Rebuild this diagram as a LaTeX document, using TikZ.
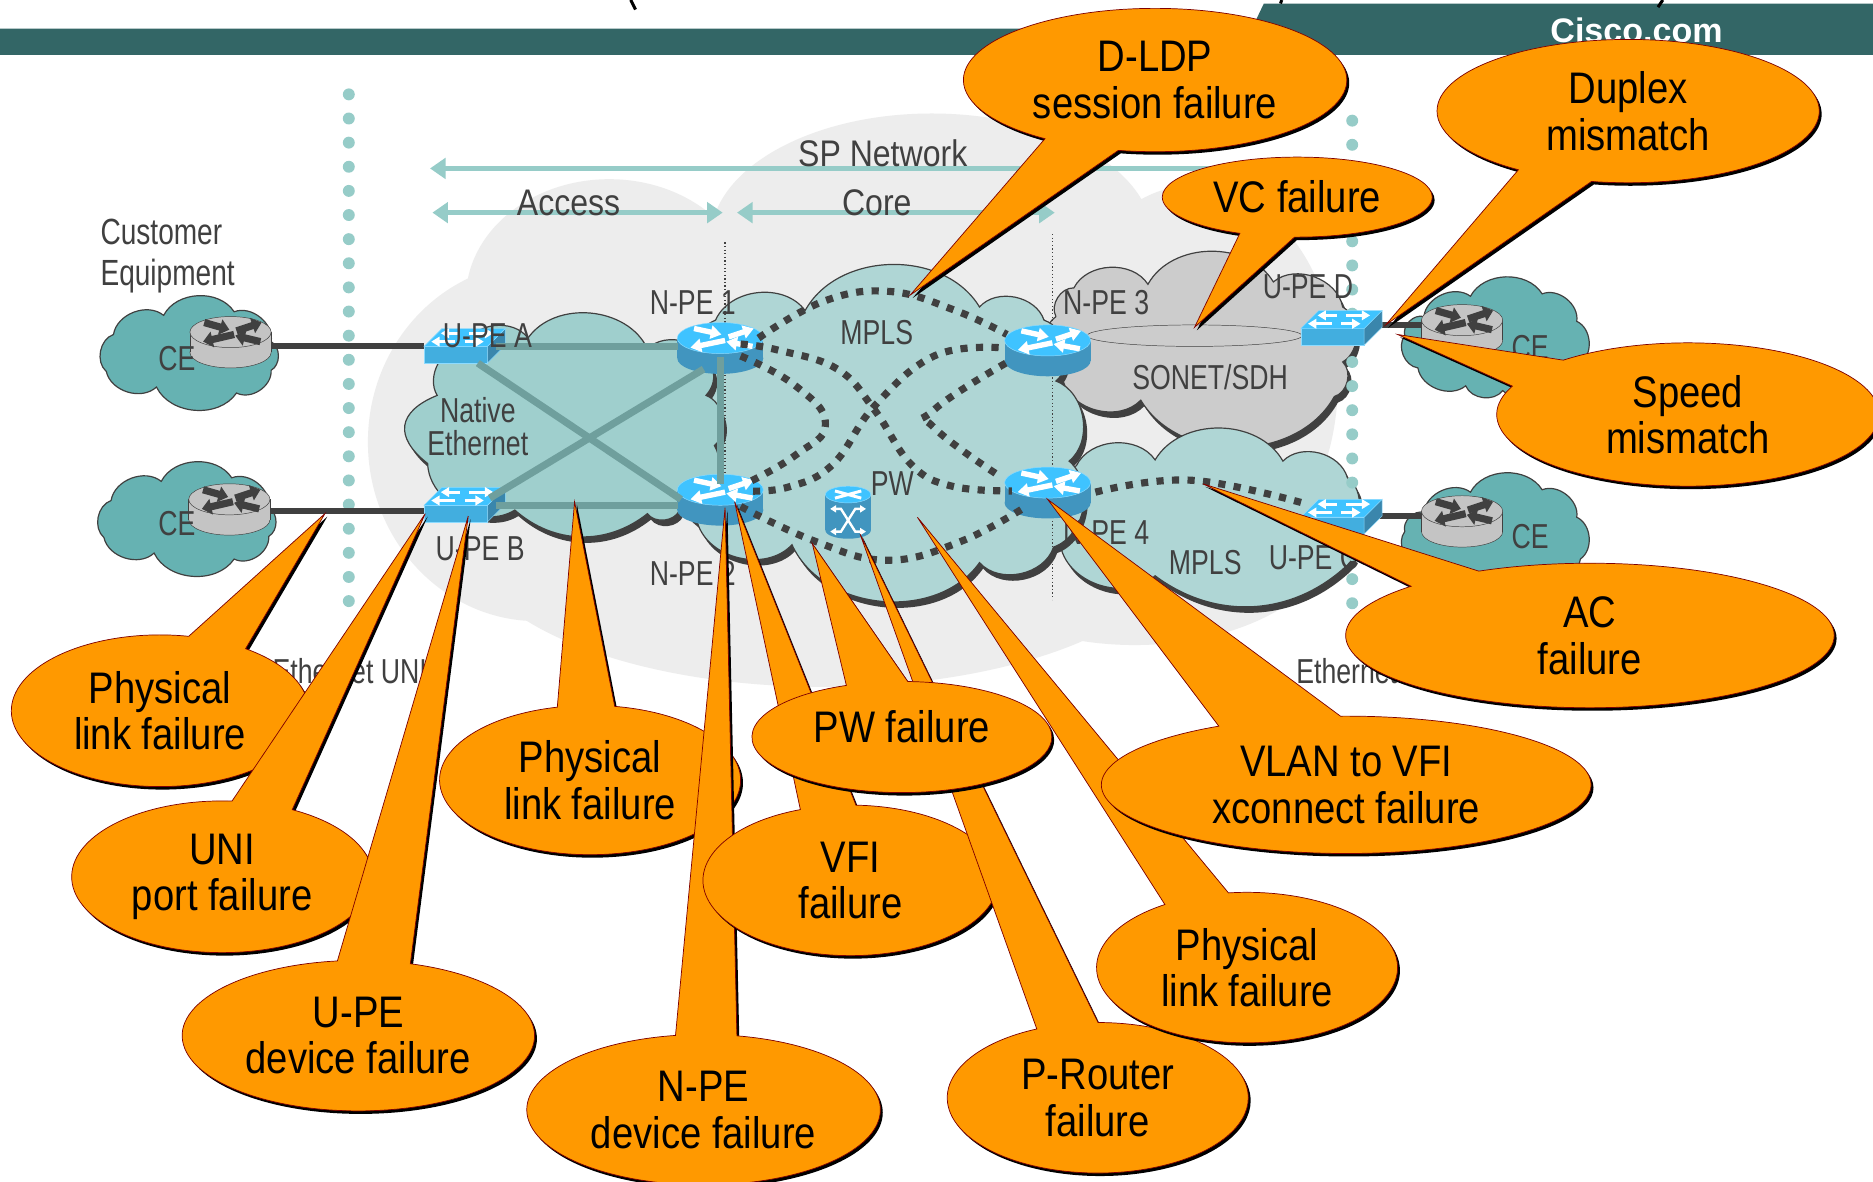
\documentclass[tikz,border=0pt]{standalone}
\usepackage{fontspec}
\setmainfont[FakeStretch=0.865]{Liberation Sans}
\newfontfamily\narrowfont[FakeStretch=0.77]{Liberation Sans}
\newfontfamily\plainfont{Liberation Sans}
\usetikzlibrary{shapes.callouts,shadows,arrows.meta}

\definecolor{barteal}{HTML}{336666}
\definecolor{mplsteal}{HTML}{AFD6D5}
\definecolor{nativeteal}{HTML}{9FCFCD}
\definecolor{ceteal}{HTML}{66B2B2}
\definecolor{linkteal}{HTML}{6F9F9D}
\definecolor{arrowteal}{HTML}{96CCC8}
\definecolor{labelgray}{HTML}{404040}
\definecolor{failorange}{HTML}{FF9900}
\definecolor{routerblue}{HTML}{4195BF}
\definecolor{routertop}{HTML}{3FC3FF}
\definecolor{switchblue}{HTML}{42AEDF}

\tikzset{
  router/.pic = {
    \fill[routerblue] (0,17) ellipse [x radius=36, y radius=13];
    \fill[routerblue] (-36,0) rectangle (36,17);
    \draw[routertop!60,fill=routertop] (0,0) ellipse [x radius=36, y radius=13];
    \foreach \xa/\ya/\xb/\yb in {-22/-8/1/-3, 7/-1/28/-8, 4/2/-25/8, 27/7/5/3}{
      \draw[white,line width=4.5,-{Triangle[length=9,width=11]}] (\xa,\ya) -- (\xb,\yb);}
  },
  grayrouter/.pic = {
    \draw[labelgray,fill=black!23] (0,17) ellipse [x radius=34, y radius=13];
    \fill[black!23] (-34,0) rectangle (34,17);
    \draw[labelgray] (-34,0) -- (-34,17) (34,0) -- (34,17);
    \draw[labelgray,fill=black!23] (0,0) ellipse [x radius=34, y radius=13];
    \foreach \xa/\ya/\xb/\yb in {-22/-8/-1/-2, 5/-1/26/-8, 3/2/-23/8, 25/8/4/3}{
      \draw[labelgray,line width=6,-{Triangle[length=8,width=13]}] (\xa,\ya) -- (\xb,\yb);}
  },
  switchbox/.pic = {
    \draw[routertop!60,fill=switchblue] (0,0) rectangle (53,14);
    \draw[routertop!60,fill=routerblue!90!black] (53,0) -- (68,-15) -- (68,-1) -- (53,14) -- cycle;
    \draw[routertop!60,fill=routertop] (0,0) -- (53,0) -- (68,-15) -- (15,-15) -- cycle;
    \foreach \xa/\ya/\xb/\yb in {30/-11/14/-11, 38/-11/58/-11, 26/-4/6/-4, 34/-4/50/-4}{
      \draw[white,line width=2.5,-{Triangle[length=7,width=8]}] (\xa,\ya) -- (\xb,\yb);}
  },
  xconnect/.pic = {
    \fill[routerblue] (0,30) ellipse [x radius=19, y radius=7];
    \fill[routerblue] (-19,0) rectangle (19,30);
    \draw[routertop!60,fill=routertop] (0,0) ellipse [x radius=19, y radius=7];
    \draw[white,line width=2.5] (-11,-3) -- (11,3) (11,-3) -- (-11,3);
    \draw[white,line width=2,{Triangle[length=5,width=6]}-{Triangle[length=5,width=6]}] (-15,12) -- (-6,12) -- (6,31) -- (15,31);
    \draw[white,line width=2,{Triangle[length=5,width=6]}-{Triangle[length=5,width=6]}] (15,12) -- (6,12) -- (-6,31) -- (-15,31);
  },
  netcloud/.style = {draw=labelgray, line width=1, every to/.style={bend left=60}},
  heavy/.style = {drop shadow={shadow xshift=3pt,shadow yshift=-5pt,fill=labelgray,opacity=1}},
  graylabel/.style = {text=labelgray, inner sep=0pt, font=\narrowfont\fontsize{29}{35}\selectfont, align=center},
  spanlabel/.style = {text=labelgray, inner sep=0pt, font=\fontsize{31}{35}\selectfont},
  pwline/.style = {draw=labelgray, line width=6, dash pattern=on 6pt off 7pt},
  linkline/.style = {linkteal, line width=6},
  celine/.style = {labelgray, line width=5},
  spanarrow/.style = {arrowteal, line width=4, {Triangle[length=13,width=17]}-{Triangle[length=13,width=17]}},
  faildot/.style = {arrowteal, line width=10, line cap=round, dash pattern=on 0pt off 20.2pt},
  failure/.style = {ellipse callout, fill=failorange, draw=red!50!black, line width=.6,
    inner sep=0pt, outer sep=0pt, align=center, font=\fontsize{37}{39}\selectfont,
    drop shadow={shadow xshift=2pt,shadow yshift=-2.5pt,fill=black,opacity=1}},
}

\begin{document}
\begin{tikzpicture}[x=1pt,y=-1pt]
  \useasboundingbox (0,0) rectangle (1568,989);
  \fill[white] (0,0) rectangle (1568,989);

  % header
  \fill[barteal] (0,24) -- (1048,24) -- (1058,3) -- (1568,3) -- (1568,46) -- (0,46) -- cycle;
  \node[text=white, inner sep=0pt, font=\plainfont\bfseries\fontsize{28.5}{29}\selectfont] (ciscocom) at (1370,25) {Cisco.com};
  \draw[black,line width=2.5] (528,0) -- (532,8) (1073,0) -- (1072,3) (1392,0) -- (1388,6);

  % service provider backdrop
  \fill[black!7] (450,370) ellipse [x radius=142, y radius=150]
    (510,250) ellipse [x radius=120, y radius=100]
    (780,200) ellipse [x radius=185, y radius=105]
    (1000,320) ellipse [x radius=120, y radius=165]
    (690,450) ellipse [x radius=300, y radius=125]
    (950,440) ellipse [x radius=170, y radius=100];

  % clouds
  \draw[netcloud,heavy,fill=black!20] (884,265) to (899,241) to (961,238) to (1066,236) to (1124,257)
    to (1124,303) to (1117,332) to (955,335) to (890,319) to (884,265);
  \draw[netcloud,heavy,fill=mplsteal] (901,390) to (967,385) to (1074,386) to (1128,400) to (1124,447)
    to (1128,473) to[bend left=40] (967,482) to (888,458) to (901,390);
  \draw[netcloud,heavy,fill=mplsteal] (599,268) to (674,260) to (820,257) to (874,268) to (884,319)
    to (895,386) to (882,458) to (820,471) to (663,456) to (584,438) to (590,335) to (599,268);
  \draw[netcloud,heavy,fill=nativeteal] (389,289) to (442,283) to (542,292) to (596,307) to[bend left=30] (591,331)
    to (598,373) to (569,427) to (542,430) to[bend left=40] (431,427) to (358,388) to[looseness=1.6] (366,331) to (389,289);
  \foreach \dx/\dy in {0/0,-2/139}{
    \draw[netcloud,fill=ceteal,shift={(\dx,\dy)}] (95,280) to (137,264) to (196,261) to (227,286) to (227,310)
      to (198,329) to (131,324) to (89,311) to (95,280);
  }
  \foreach \dy in {4,168}{
    \draw[netcloud,fill=ceteal,shift={(0,\dy)}] (1192,261) to (1231,244) to (1291,242) to (1320,265) to (1323,300)
      to (1258,323) to (1227,319) to (1187,304) to (1176,277) to (1192,261);
  }

  % demarcation
  \draw[faildot] (292,79) -- (292,505);
  \draw[faildot] (1132,101) -- (1132,505);
  \draw[labelgray,line width=1,dotted] (607,203) -- (607,410);
  \draw[labelgray,line width=1,dotted] (881,196) -- (881,502);
  \draw[spanarrow] (360,141) -- (1095,141);
  \draw[spanarrow] (362,178) -- (605,178);
  \draw[spanarrow] (617,178) -- (883,178);
  \draw[labelgray,fill=black!20] (1000,281) ellipse [x radius=90, y radius=9];

  % devices
  \foreach \name/\xpos/\ypos in {npeA/603/283, npeB/603/410, npeC/877/285, npeD/877/404,
    ceA/193/278, ceB/192/418, ceD/1224/268, ceC/1224/428,
    upeA/355/290, upeB/355/423, upeD/1089/275, upeC/1089/433}{
    \coordinate (\name) at (\xpos,\ypos);
  }
  \foreach \name in {npeA,npeB,npeC,npeD}{\pic at (\name) {router};}
  \draw[celine] ([shift={(30,12)}]ceA) -- (upeA);
  \draw[celine] ([shift={(30,10)}]ceB) -- ([shift={(0,5)}]upeB);
  \draw[celine] ([shift={(68,-3)}]upeD) -- ([shift={(-30,4)}]ceD);
  \draw[celine] ([shift={(60,-1)}]upeC) -- ([shift={(-30,4)}]ceC);
  \foreach \name in {ceA,ceB,ceD,ceC}{\pic at (\name) {grayrouter};}
  \foreach \name in {upeA,upeB,upeD,upeC}{\pic at (\name) {switchbox};}
  \coordinate (pwbox) at (710,414);
  \pic at (pwbox) {xconnect};

  % native ethernet links
  \draw[linkline] ([shift={(60,0)}]upeA) -- ([shift={(-35,7)}]npeA);
  \draw[linkline] ([shift={(60,0)}]upeB) -- ([shift={(-35,13)}]npeB);
  \draw[linkline] ([shift={(45,14)}]upeA) -- ([shift={(-33,8)}]npeB);
  \draw[linkline] ([shift={(55,-6)}]upeB) -- ([shift={(-14,26)}]npeA);
  \draw[linkline] ([shift={(0,16)}]npeA) -- ([shift={(0,-5)}]npeB);

  % pseudowires
  \draw[pwline] plot[smooth,tension=.7] coordinates {([shift={(32,0)}]npeA) (690,252) (745,244) (800,260) ([shift={(-34,-5)}]npeC)};
  \draw[pwline] plot[smooth,tension=.7] coordinates {([shift={(17,5)}]npeA) (651,293) (701,309) (732,343) (763,389) (797,407) ([shift={(-30,7)}]npeD)};
  \draw[pwline] plot[smooth,tension=.8] coordinates {([shift={(17,15)}]npeA) (666,323) (691,355) (666,381) ([shift={(23,-6)}]npeB)};
  \draw[pwline] plot[smooth,tension=.7] coordinates {([shift={(-41,6)}]npeC) (782,298) (732,340) (697,389) (659,408) ([shift={(21,1)}]npeB)};
  \draw[pwline] plot[smooth,tension=.9] coordinates {([shift={(-35,19)}]npeC) (782,343) (782,358) ([shift={(-41,-6)}]npeD)};
  \draw[pwline] plot[smooth,tension=.7] coordinates {([shift={(17,14)}]npeB) (682,453) (743,469) (805,453) ([shift={(-18,20)}]npeD)};
  \draw[pwline] plot[smooth,tension=.7] coordinates {([shift={(40,8)}]npeD) (997,402) ([shift={(5,-11)}]upeC)};

  % labels
  \node[graylabel,anchor=west,font=\narrowfont\fontsize{30.5}{35}\selectfont] (custtext) at (84,194) {Customer};
  \node[graylabel,anchor=west,font=\narrowfont\fontsize{30.5}{35}\selectfont] (equiptext) at (84,231) {Equipment};
  \node[graylabel] (ceAtext) at (148,300) {CE};
  \node[graylabel] (ceBtext) at (148,438) {CE};
  \node[graylabel] (ceDtext) at (1281,291) {CE};
  \node[graylabel] (ceCtext) at (1281,449) {CE};
  \node[graylabel] (upeAtext) at (408,281) {U-PE A};
  \node[graylabel] (upeBtext) at (402,459) {U-PE B};
  \node[graylabel] (upeDtext) at (1095,240) {U-PE D};
  \node[graylabel] (upeCtext) at (1100,467) {U-PE C};
  \node[graylabel] (npeAtext) at (580,253) {N-PE 1};
  \node[graylabel] (npeBtext) at (580,480) {N-PE 2};
  \node[graylabel] (npeCtext) at (926,253) {N-PE 3};
  \node[graylabel] (npeDtext) at (926,446) {N-PE 4};
  \node[graylabel] (nativetext) at (400,357) {Native\\[-7pt]Ethernet};
  \node[graylabel] (mplstext) at (734,278) {MPLS};
  \node[graylabel] (pwtext) at (747,405) {PW};
  \node[graylabel] (sonettext) at (1013,316) {SONET/SDH};
  \node[graylabel] (mplsrtext) at (1009,471) {MPLS};
  \node[spanlabel] (sptext) at (739,128) {SP Network};
  \node[spanlabel] (accesstext) at (476,170) {Access};
  \node[spanlabel] (coretext) at (734,170) {Core};
  \node[graylabel,anchor=west] (uniA) at (228,562) {Ethernet UNI};
  \node[graylabel,anchor=west] (uniB) at (1085,562) {Ethernet UNI};

  % failure points
  \node[failure,minimum width=249,minimum height=127,callout absolute pointer={(272,430)},callout pointer arc=24] (linkA) at (134,595) {Physical\\link failure};
  \node[failure,minimum width=252,minimum height=127,callout absolute pointer={(356,430)},callout pointer arc=24] (uniport) at (186,734) {UNI\\port failure};
  \node[failure,minimum width=295,minimum height=126,callout absolute pointer={(392,432)},callout pointer arc=24] (upefail) at (300,867) {U-PE\\device failure};
  \node[failure,minimum width=252,minimum height=125,callout absolute pointer={(481,420)},callout pointer arc=22] (linkB) at (494,653) {Physical\\link failure};
  \node[failure,minimum width=296,minimum height=126,callout absolute pointer={(607,425)},callout pointer arc=20] (npefail) at (589,929) {N-PE\\device failure};
  \node[failure,minimum width=247,minimum height=126,callout absolute pointer={(615,420)},callout pointer arc=22] (vfifail) at (712,737) {VFI\\failure};
  \node[failure,minimum width=252,minimum height=126,callout absolute pointer={(720,447)},callout pointer arc=24] (prouter) at (919,919) {P-Router\\failure};
  \node[failure,minimum width=252,minimum height=126,callout absolute pointer={(768,433)},callout pointer arc=26] (linkC) at (1044,810) {Physical\\link failure};
  \node[failure,minimum width=251,minimum height=93,callout absolute pointer={(680,455)},callout pointer arc=24] (pwfail) at (755,617) {\raisebox{18pt}{PW failure}};
  \node[failure,minimum width=410,minimum height=115,callout absolute pointer={(877,418)},callout pointer arc=30] (vlanfail) at (1127,657) {VLAN to VFI\\xconnect failure};
  \node[failure,minimum width=409,minimum height=121,callout absolute pointer={(1007,405)},callout pointer arc=20] (acfail) at (1331,532) {AC\\failure};
  \node[failure,minimum width=320,minimum height=120,callout absolute pointer={(1170,280)},callout pointer arc=26] (speedfail) at (1413,347) {Speed\\mismatch};
  \node[failure,minimum width=320,minimum height=120,callout absolute pointer={(1160,272)},callout pointer arc=24] (duplexfail) at (1363,93) {Duplex\\mismatch};
  \node[failure,minimum width=226,minimum height=67,callout absolute pointer={(1000,274)},callout pointer arc=24] (vcfail) at (1086,165) {VC failure};
  \node[failure,minimum width=321,minimum height=120,callout absolute pointer={(762,247)},callout pointer arc=24] (ldpfail) at (967,67) {D-LDP\\session failure};
\end{tikzpicture}
\end{document}
